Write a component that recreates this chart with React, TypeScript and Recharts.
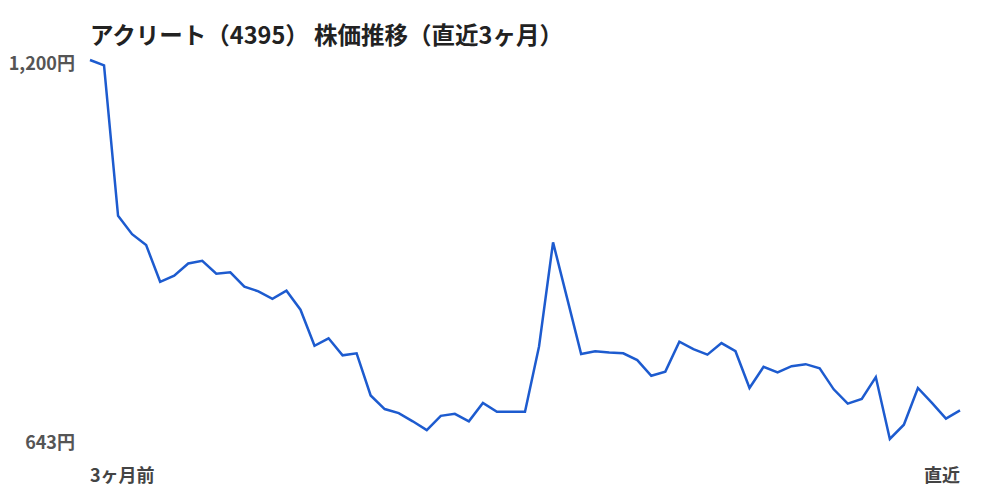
import { LineChart, Line, XAxis, YAxis } from "recharts";

const TITLE = "アクリート（4395） 株価推移（直近3ヶ月）";

// daily closing prices, oldest first
const prices = [
  1200, 1192, 971, 944, 928, 874, 883, 901, 905, 886,
  888, 867, 860, 849, 861, 833, 780, 791, 766, 769,
  707, 687, 681, 669, 656, 677, 680, 669, 696, 683,
  683, 683, 779, 932, 850, 768, 772, 770, 769, 759,
  736, 742, 786, 775, 767, 784, 772, 718, 749, 741,
  750, 753, 747, 716, 695, 702, 734, 643, 664, 718,
  696, 673, 685,
];

const yTicks = [643, 1200];
const xTickLabels = ["3ヶ月前", "直近"];

const chartData = prices.map((price, i) => ({ day: i, price }));
const lastDay = prices.length - 1;

const fontFamily = "'Noto Sans CJK JP', 'Noto Sans', sans-serif";

const XTick = (props: any) => {
  const { x, y, payload } = props;
  const isFirst = payload.value === 0;
  return (
    <text
      x={x}
      y={y + 33}
      textAnchor={isFirst ? "start" : "end"}
      dominantBaseline="central"
      fill="#444"
      fontSize={18}
      fontWeight={700}
      fontFamily={fontFamily}
    >
      {isFirst ? xTickLabels[0] : xTickLabels[1]}
    </text>
  );
};

const YTick = (props: any) => {
  const { x, y, payload } = props;
  return (
    <text
      x={x}
      y={y + 2}
      textAnchor="end"
      dominantBaseline="central"
      fill="#555"
      fontSize={18}
      fontWeight={600}
      fontFamily={fontFamily}
    >
      {`${payload.value.toLocaleString("en-US")}円`}
    </text>
  );
};

const App = () => {
  return (
    <div
      style={{
        position: "absolute",
        left: 0,
        top: 0,
        width: 1000,
        height: 500,
        background: "#fff",
        fontFamily,
      }}
    >
      <div
        style={{
          position: "absolute",
          left: 90,
          top: 16,
          fontSize: 23.5,
          fontWeight: 700,
          color: "#222",
          lineHeight: "36px",
          whiteSpace: "nowrap",
        }}
      >
        {TITLE}
      </div>
      <LineChart
        width={1000}
        height={500}
        data={chartData}
        margin={{ top: 60, right: 40, left: 0, bottom: 21 }}
      >
        <XAxis
          dataKey="day"
          type="number"
          domain={[0, lastDay]}
          ticks={[0, lastDay]}
          axisLine={false}
          tickLine={false}
          tickSize={0}
          height={40}
          tick={<XTick />}
        />
        <YAxis
          domain={[643, 1200]}
          ticks={yTicks}
          width={90}
          axisLine={false}
          tickLine={false}
          tickSize={0}
          tickMargin={15}
          tick={<YTick />}
        />
        <Line
          type="linear"
          dataKey="price"
          stroke="#1d5bcf"
          strokeWidth={2.5}
          dot={false}
          isAnimationActive={false}
        />
      </LineChart>
    </div>
  );
};

export default App;
